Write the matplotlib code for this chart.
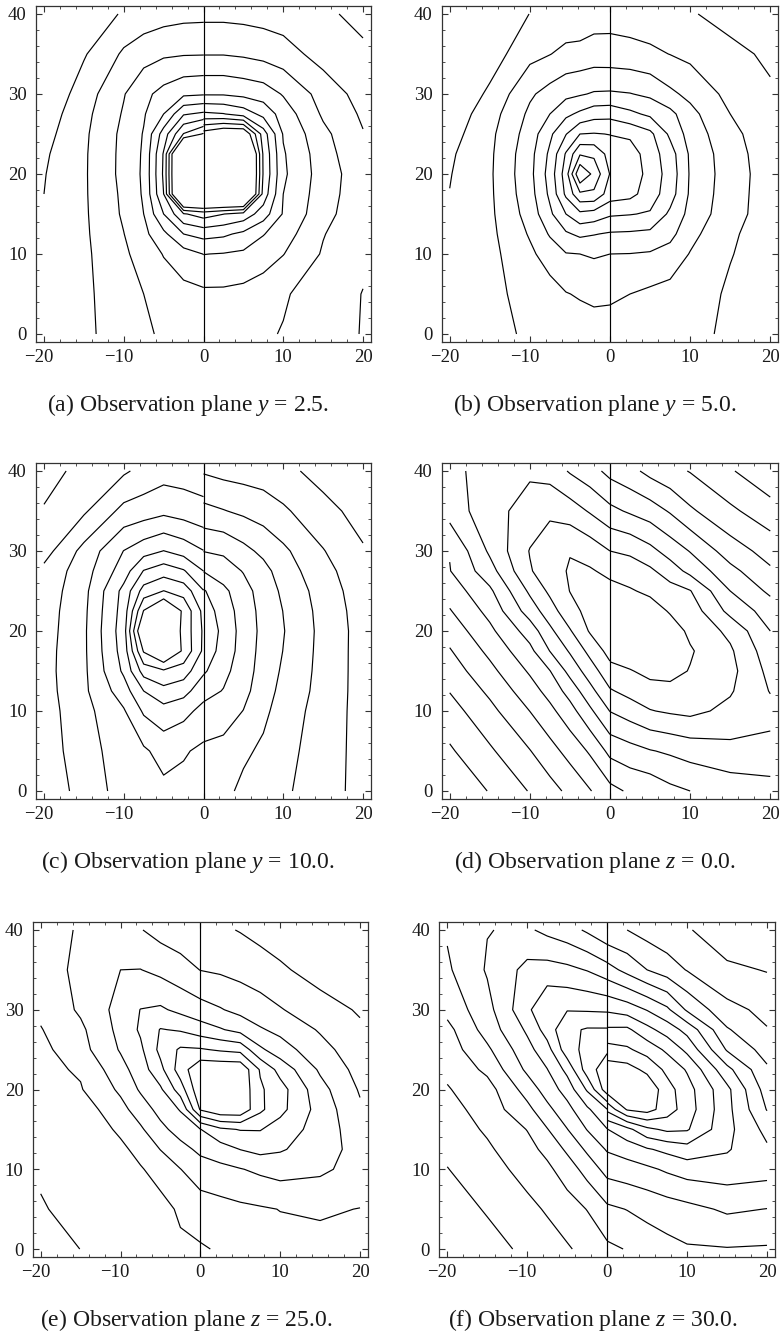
import numpy as np
import matplotlib.pyplot as plt
from matplotlib.ticker import MultipleLocator
from matplotlib.transforms import ScaledTranslation

plt.rcParams['font.family'] = ['Liberation Serif', 'DejaVu Serif']
plt.rcParams['mathtext.fontset'] = 'custom'
plt.rcParams['mathtext.rm'] = 'Liberation Serif'
plt.rcParams['mathtext.it'] = 'Liberation Serif:italic'

# grid rows (second coordinate) shared by all panels
y_nodes = [0, 5, 10, 12.5, 15, 17.5, 20, 22.5, 25, 27.5, 30, 35, 40]
x_right = [0, 2.5, 5, 7.5, 10, 15, 20]
x_left = [-20, -15, -10, -7.5, -5, -2.5, 0]
x_ticks = [-20, -10, 0, 10, 20]

# values are contour indices, left and right of the interface x = 0
# panel (a), y = 2.5
a_left = [
    [1.5, 1.8, 2.45, 2.83, 3.15, 3.25, 3.3],
    [1.45, 1.8, 2.57, 3.0, 3.45, 3.7, 3.8],
    [1.35, 1.8, 2.82, 3.43, 4.05, 4.56, 5.02],
    [1.25, 1.83, 2.98, 3.73, 4.76, 6.0, 6.33],
    [1.15, 1.85, 3.14, 4.0, 6.0, 7.9, 8.44],
    [1.0, 1.87, 3.2, 4.12, 7.0, 14, 14],
    [0.95, 1.87, 3.29, 4.16, 7.17, 14, 14],
    [0.85, 1.86, 3.28, 4.13, 7.1, 14, 14],
    [0.65, 1.81, 3.25, 4.06, 6.46, 9.05, 10.1],
    [0.42, 1.7, 3.1, 3.9, 5.0, 6.9, 7.2],
    [0.1, 1.5, 2.94, 3.74, 4.33, 4.8, 4.9],
    [-0.5, 0.9, 2.15, 2.6, 2.85, 2.93, 2.95],
    [-1.2, -0.2, 1.2, 1.4, 1.6, 1.72, 1.75],
]
a_right = [
    [3.3, 3.3, 3.2, 3.12, 2.95, 2.45, 1.95],
    [3.8, 3.8, 3.7, 3.5, 3.1, 2.54, 1.97],
    [5.02, 4.95, 4.82, 4.45, 4.03, 2.9, 2.2],
    [6.33, 6.18, 5.77, 5.05, 4.46, 3.05, 2.25],
    [8.44, 8.02, 7.63, 6.5, 4.91, 3.34, 2.3],
    [14, 14, 14, 7.6, 5.0, 3.47, 2.35],
    [14, 14, 14, 7.9, 5.17, 3.52, 2.4],
    [14, 14, 14, 7.85, 5.1, 3.45, 2.15],
    [10.5, 11.2, 11.2, 7.5, 4.92, 3.25, 2.05],
    [7.2, 7.05, 6.57, 5.69, 4.55, 2.85, 1.85],
    [4.9, 4.9, 4.73, 4.52, 3.92, 2.6, 1.6],
    [2.95, 2.95, 2.85, 2.67, 2.43, 1.6, 1.2],
    [1.75, 1.75, 1.7, 1.62, 1.5, 1.2, 0.7],
]

# panel (b), y = 5.0
b_xl = [-20, -15, -10, -7.5, -5.5, -3.75, -2, 0]
b_left = [
    [1.35, 1.6, 2.2, 2.3, 2.35, 2.45, 2.5, 2.55],
    [1.3, 1.65, 2.45, 2.6, 2.95, 3.1, 3.24, 3.17],
    [1.25, 1.7, 2.8, 3.45, 3.95, 4.0, 4.1, 4.0],
    [1.2, 1.75, 3.1, 4.1, 4.85, 5.2, 5.05, 4.89],
    [1.12, 1.8, 3.4, 4.8, 6.0, 6.77, 6.6, 6.14],
    [1.02, 1.83, 3.6, 5.2, 7.2, 8.8, 8.8, 7.5],
    [0.95, 1.85, 3.7, 5.4, 7.5, 11.0, 9.7, 7.95],
    [0.85, 1.82, 3.65, 5.2, 7.1, 8.9, 8.8, 7.6],
    [0.6, 1.75, 3.45, 4.8, 5.95, 7.0, 7.06, 6.97],
    [0.35, 1.55, 3.2, 4.0, 4.77, 5.2, 5.6, 5.67],
    [0.05, 1.19, 2.85, 3.37, 3.74, 3.9, 4.1, 4.13],
    [-0.6, 0.5, 1.7, 1.97, 2.27, 2.34, 2.45, 2.42],
    [-1.3, -0.4, 1.03, 1.2, 1.3, 1.3, 1.55, 1.6],
]
b_right = [
    [2.55, 2.6, 2.5, 2.4, 2.3, 1.8, 1.4],
    [3.17, 3.0, 2.8, 2.65, 2.5, 1.85, 1.45],
    [4.0, 3.98, 3.9, 3.6, 2.95, 2.05, 1.5],
    [4.89, 4.85, 4.75, 4.3, 3.3, 2.15, 1.5],
    [6.14, 6.05, 5.9, 4.8, 3.7, 2.35, 1.55],
    [7.5, 7.3, 6.5, 5.45, 3.85, 2.4, 1.55],
    [7.7, 7.7, 6.6, 5.6, 3.9, 2.45, 1.55],
    [7.5, 7.5, 6.5, 5.45, 3.85, 2.4, 1.5],
    [6.97, 6.8, 6.25, 4.8, 3.6, 2.25, 1.45],
    [5.67, 5.23, 4.8, 4.3, 3.3, 2.0, 1.3],
    [4.13, 4.04, 3.8, 3.2, 2.75, 1.7, 1.15],
    [2.42, 2.35, 2.2, 1.98, 1.75, 1.3, 0.8],
    [1.6, 1.5, 1.4, 1.25, 1.1, 0.6, 0.2],
]

# panel (c), y = 10.0
c_left = [
    [2.27, 3.41, 4.4, 4.6, 4.75, 4.7, 4.6],
    [2.44, 3.6, 4.48, 4.84, 5.38, 5.1, 4.8],
    [2.55, 3.67, 4.9, 6.14, 6.63, 6.32, 5.68],
    [2.6, 3.8, 5.53, 7.0, 7.68, 7.35, 6.38],
    [2.65, 3.8, 6.17, 8.42, 8.86, 8.5, 7.15],
    [2.62, 3.82, 6.42, 10.1, 11.5, 9.8, 7.8],
    [2.55, 3.82, 6.54, 11.5, 11.5, 9.7, 7.85],
    [2.5, 3.78, 6.42, 10.05, 11.5, 9.8, 7.7],
    [2.4, 3.7, 6.3, 8.41, 9.02, 8.6, 7.04],
    [2.25, 3.55, 5.5, 7.05, 7.55, 7.1, 6.0],
    [1.6, 3.31, 5.02, 5.6, 6.02, 5.6, 5.03],
    [1.1, 1.85, 3.3, 3.5, 3.75, 3.54, 3.28],
    [0.5, 1.4, 1.85, 2.3, 2.6, 2.55, 2.5],
]
c_right = [
    [4.5, 4.3, 3.75, 3.35, 3.15, 2.5, 1.6],
    [4.8, 4.7, 4.2, 3.8, 3.3, 2.55, 1.6],
    [5.68, 5.45, 4.98, 4.25, 3.5, 2.6, 1.6],
    [6.38, 5.95, 5.3, 4.45, 3.7, 2.65, 1.6],
    [7.15, 6.3, 5.45, 4.6, 3.85, 2.67, 1.6],
    [7.5, 6.7, 5.5, 4.7, 3.98, 2.68, 1.6],
    [7.6, 6.8, 5.55, 4.75, 4.05, 2.7, 1.6],
    [7.5, 6.6, 5.5, 4.7, 3.98, 2.65, 1.55],
    [7.1, 6.25, 5.35, 4.6, 3.8, 2.55, 1.45],
    [5.96, 5.45, 4.95, 4.35, 3.5, 2.35, 1.3],
    [4.97, 4.85, 4.3, 3.75, 3.2, 2.05, 1.1],
    [3.28, 3.05, 2.8, 2.55, 2.15, 1.35, 0.6],
    [1.9, 1.7, 1.6, 1.5, 1.3, 0.6, 0.0],
]

# panel (d), z = 0.0
d_left = [
    [0.15, 1.06, 2.06, 2.63, 3.25, 3.94, 4.7],
    [0.87, 1.85, 2.96, 3.64, 4.35, 5.13, 6.27],
    [1.59, 2.72, 4.01, 4.74, 5.61, 6.8, 8.03],
    [2.04, 3.2, 4.57, 5.35, 6.39, 7.67, 8.9],
    [2.48, 3.72, 5.13, 5.97, 7.32, 8.5, 9.66],
    [2.92, 4.24, 5.73, 7.02, 8.11, 9.29, 10.35],
    [3.4, 4.77, 6.45, 7.77, 8.91, 10.1, 10.5],
    [3.93, 5.3, 7.46, 8.55, 9.67, 10.3, 10.5],
    [4.44, 5.81, 8.18, 9.2, 10.02, 10.3, 10.3],
    [4.96, 6.6, 8.91, 9.57, 10.1, 10.1, 9.77],
    [5.05, 7.17, 9.05, 9.6, 9.95, 9.6, 9.0],
    [6.4, 7.64, 8.4, 8.8, 8.5, 7.9, 7.26],
    [6.6, 7.6, 7.85, 7.6, 6.9, 6.4, 5.7],
]
d_right = [
    [4.7, 5.15, 5.3, 5.75, 6.0, 6.4, 6.6],
    [6.27, 6.62, 6.94, 7.15, 7.4, 7.7, 7.7],
    [8.03, 8.48, 8.95, 9.13, 9.25, 8.75, 8.3],
    [8.9, 9.32, 9.6, 9.73, 9.5, 9.1, 7.95],
    [9.66, 9.93, 10.3, 10.3, 9.95, 9.3, 7.7],
    [10.4, 10.7, 10.9, 10.7, 10.1, 9.15, 7.4],
    [10.6, 11.0, 11.1, 10.5, 9.8, 8.75, 7.0],
    [10.5, 10.8, 10.5, 9.9, 9.55, 7.7, 6.55],
    [10.3, 10.1, 9.79, 9.4, 9.05, 7.0, 5.8],
    [9.77, 9.5, 9.19, 8.5, 7.72, 6.3, 5.15],
    [9.0, 8.83, 8.29, 7.6, 6.95, 5.5, 4.6],
    [7.26, 6.86, 6.5, 5.9, 5.16, 4.2, 3.4],
    [5.7, 5.3, 4.7, 4.3, 3.95, 3.1, 2.25],
]

# panel (e), z = 25.0
e_left = [
    [0.1, 1.02, 1.32, 1.48, 1.65, 1.8, 1.9],
    [0.95, 1.2, 1.4, 1.5, 1.62, 2.17, 2.5],
    [1.08, 1.45, 1.75, 1.9, 2.45, 2.98, 3.55],
    [1.21, 1.5, 1.74, 2.37, 3.02, 3.66, 4.22],
    [1.2, 1.1, 2.22, 2.85, 3.73, 4.41, 4.97],
    [1.3, 1.45, 2.68, 3.48, 4.33, 5.07, 8.1],
    [1.62, 1.93, 3.18, 4.13, 4.84, 6.5, 8.8],
    [1.75, 2.11, 3.65, 4.5, 5.71, 7.5, 8.8],
    [1.72, 2.64, 4.09, 4.8, 6.27, 7.15, 7.1],
    [1.95, 2.8, 4.29, 5.14, 6.05, 5.9, 5.47],
    [2.2, 3.15, 4.35, 5.02, 5.15, 4.75, 4.38],
    [2.4, 3.3, 4.0, 4.02, 3.74, 3.38, 2.98],
    [2.35, 3.15, 3.4, 3.05, 2.65, 2.45, 2.25],
]
e_right = [
    [1.9, 2.1, 2.4, 2.6, 2.7, 2.75, 2.6],
    [2.5, 2.65, 2.8, 2.9, 3.02, 3.1, 2.98],
    [3.55, 3.74, 3.95, 4.2, 4.4, 4.2, 3.6],
    [4.22, 4.56, 5.02, 5.3, 5.1, 4.5, 3.6],
    [4.97, 5.81, 6.05, 6.05, 5.55, 4.6, 3.4],
    [8.1, 8.8, 8.8, 7.2, 6.3, 4.6, 3.15],
    [8.8, 8.8, 8.8, 7.15, 6.4, 4.35, 2.9],
    [8.8, 8.8, 8.8, 6.9, 5.65, 3.85, 2.65],
    [7.1, 6.87, 6.7, 5.18, 4.45, 3.35, 2.4],
    [5.47, 5.09, 4.68, 4.1, 3.75, 2.9, 2.15],
    [4.38, 4.07, 3.72, 3.43, 3.07, 2.4, 1.9],
    [2.98, 2.86, 2.68, 2.44, 2.15, 1.6, 1.4],
    [2.25, 2.15, 1.95, 1.7, 1.5, 1.3, 1.1],
]

# panel (f), z = 30.0
f_left = [
    [0.0, 0.58, 1.24, 1.57, 1.89, 2.32, 2.79],
    [0.45, 1.1, 1.75, 2.1, 2.56, 3.03, 3.8],
    [0.97, 1.6, 2.34, 2.79, 3.47, 4.39, 5.35],
    [1.21, 1.85, 2.68, 3.26, 4.18, 5.18, 6.1],
    [1.45, 2.13, 3.03, 3.95, 4.97, 6.04, 6.97],
    [1.59, 2.47, 3.71, 4.73, 5.67, 6.82, 7.97],
    [1.93, 2.59, 4.42, 5.44, 6.41, 8.12, 10.6],
    [2.2, 3.22, 5.2, 5.97, 7.29, 9.5, 10.6],
    [2.5, 3.81, 5.67, 6.61, 8.58, 9.3, 9.85],
    [2.7, 4.42, 6.16, 7.44, 8.77, 9.1, 9.1],
    [3.3, 4.66, 6.77, 7.9, 7.95, 7.9, 7.85],
    [3.85, 5.1, 6.3, 6.4, 6.25, 5.95, 5.41],
    [4.1, 4.97, 5.15, 4.75, 4.4, 3.85, 3.2],
]
f_right = [
    [2.8, 3.05, 3.5, 3.7, 3.9, 3.95, 3.9],
    [3.8, 4.03, 4.26, 4.5, 4.7, 5.15, 4.98],
    [5.35, 5.55, 5.8, 6.15, 6.45, 6.55, 6.4],
    [6.1, 6.45, 6.9, 7.25, 7.6, 7.1, 6.15],
    [6.97, 7.7, 8.76, 9.2, 9.1, 7.3, 5.7],
    [9.25, 11.1, 11.4, 10.5, 9.5, 7.3, 4.95],
    [11.5, 12.0, 11.8, 10.4, 9.4, 7.25, 4.55],
    [11.5, 11.4, 10.75, 9.75, 8.9, 6.3, 4.15],
    [10.4, 10.15, 9.6, 8.8, 7.75, 4.9, 3.6],
    [9.15, 9.2, 8.3, 7.55, 6.67, 4.1, 3.05],
    [7.85, 7.55, 6.95, 6.2, 4.86, 3.3, 2.75],
    [5.4, 4.7, 4.0, 3.5, 2.95, 2.2, 1.95],
    [3.2, 3.0, 2.6, 2.3, 2.1, 1.35, 1.0],
]

captions = [
    r"(a) Observation plane $y$ = 2.5.",
    r"(b) Observation plane $y$ = 5.0.",
    r"(c) Observation plane $y$ = 10.0.",
    r"(d) Observation plane $z$ = 0.0.",
    r"(e) Observation plane $z$ = 25.0.",
    r"(f) Observation plane $z$ = 30.0.",
]

panels = [
    (x_left, a_left, a_right, range(1, 11)),
    (b_xl, b_left, b_right, range(1, 11)),
    (x_left, c_left, c_right, range(1, 11)),
    (x_left, d_left, d_right, range(1, 11)),
    (x_left, e_left, e_right, range(1, 9)),
    (x_left, f_left, f_right, range(1, 12)),
]

W, H = 783.0, 1335.0
# axes boxes in pixels: left, top, right, bottom
boxes = [
    (36, 6, 371, 342), (441.7, 6, 778.3, 342),
    (36, 463, 371, 799), (441.7, 463, 778.3, 799),
    (32.7, 922, 368, 1257), (439.3, 922, 775, 1257),
]
cap_pos = [(188, 405), (595, 405), (188, 862), (595, 862), (186, 1320), (593, 1320)]

fig = plt.figure(figsize=(W / 100, H / 100), dpi=100)
# minus sign hangs to the left of the digits, as in the original
minus_shift = ScaledTranslation(-0.053, 0, fig.dpi_scale_trans)

for i in range(6):
    l, t, r, b = boxes[i]
    ax = fig.add_axes([l / W, 1 - b / H, (r - l) / W, (b - t) / H])
    xl, zl, zr, lev = panels[i]
    ax.contour(xl, y_nodes, np.array(zl), levels=list(lev), colors='black', linewidths=0.85)
    ax.contour(x_right, y_nodes, np.array(zr), levels=list(lev), colors='black', linewidths=0.85)
    ax.axvline(0, color='black', lw=0.85)
    ax.set_xlim(-21, 21)
    ax.set_ylim(-1, 41)
    ax.set_xticks(x_ticks, [str(v).replace('-', '\u2212') for v in x_ticks])
    ax.yaxis.set_major_locator(MultipleLocator(10))
    ax.xaxis.set_minor_locator(MultipleLocator(2))
    ax.yaxis.set_minor_locator(MultipleLocator(2))
    ax.tick_params(which='both', direction='in', top=True, right=True,
                   colors='#333333', labelcolor='#1a1a1a', labelsize=13.5)
    ax.tick_params(which='major', length=4, width=0.8)
    ax.tick_params(axis='x', which='major', pad=5)
    ax.tick_params(axis='y', which='major', pad=6.7)
    ax.tick_params(which='minor', length=2, width=0.6)
    for lab in ax.get_xticklabels():
        if lab.get_text().startswith('\u2212'):
            lab.set_transform(lab.get_transform() + minus_shift)
    for s in ax.spines.values():
        s.set_color('#333333')
        s.set_linewidth(0.9)
    cx, cy = cap_pos[i]
    fig.text(cx / W, 1 - cy / H, captions[i], ha='center', va='center',
             fontsize=17, color='#1a1a1a')

fig.savefig('out.png', dpi=100)
